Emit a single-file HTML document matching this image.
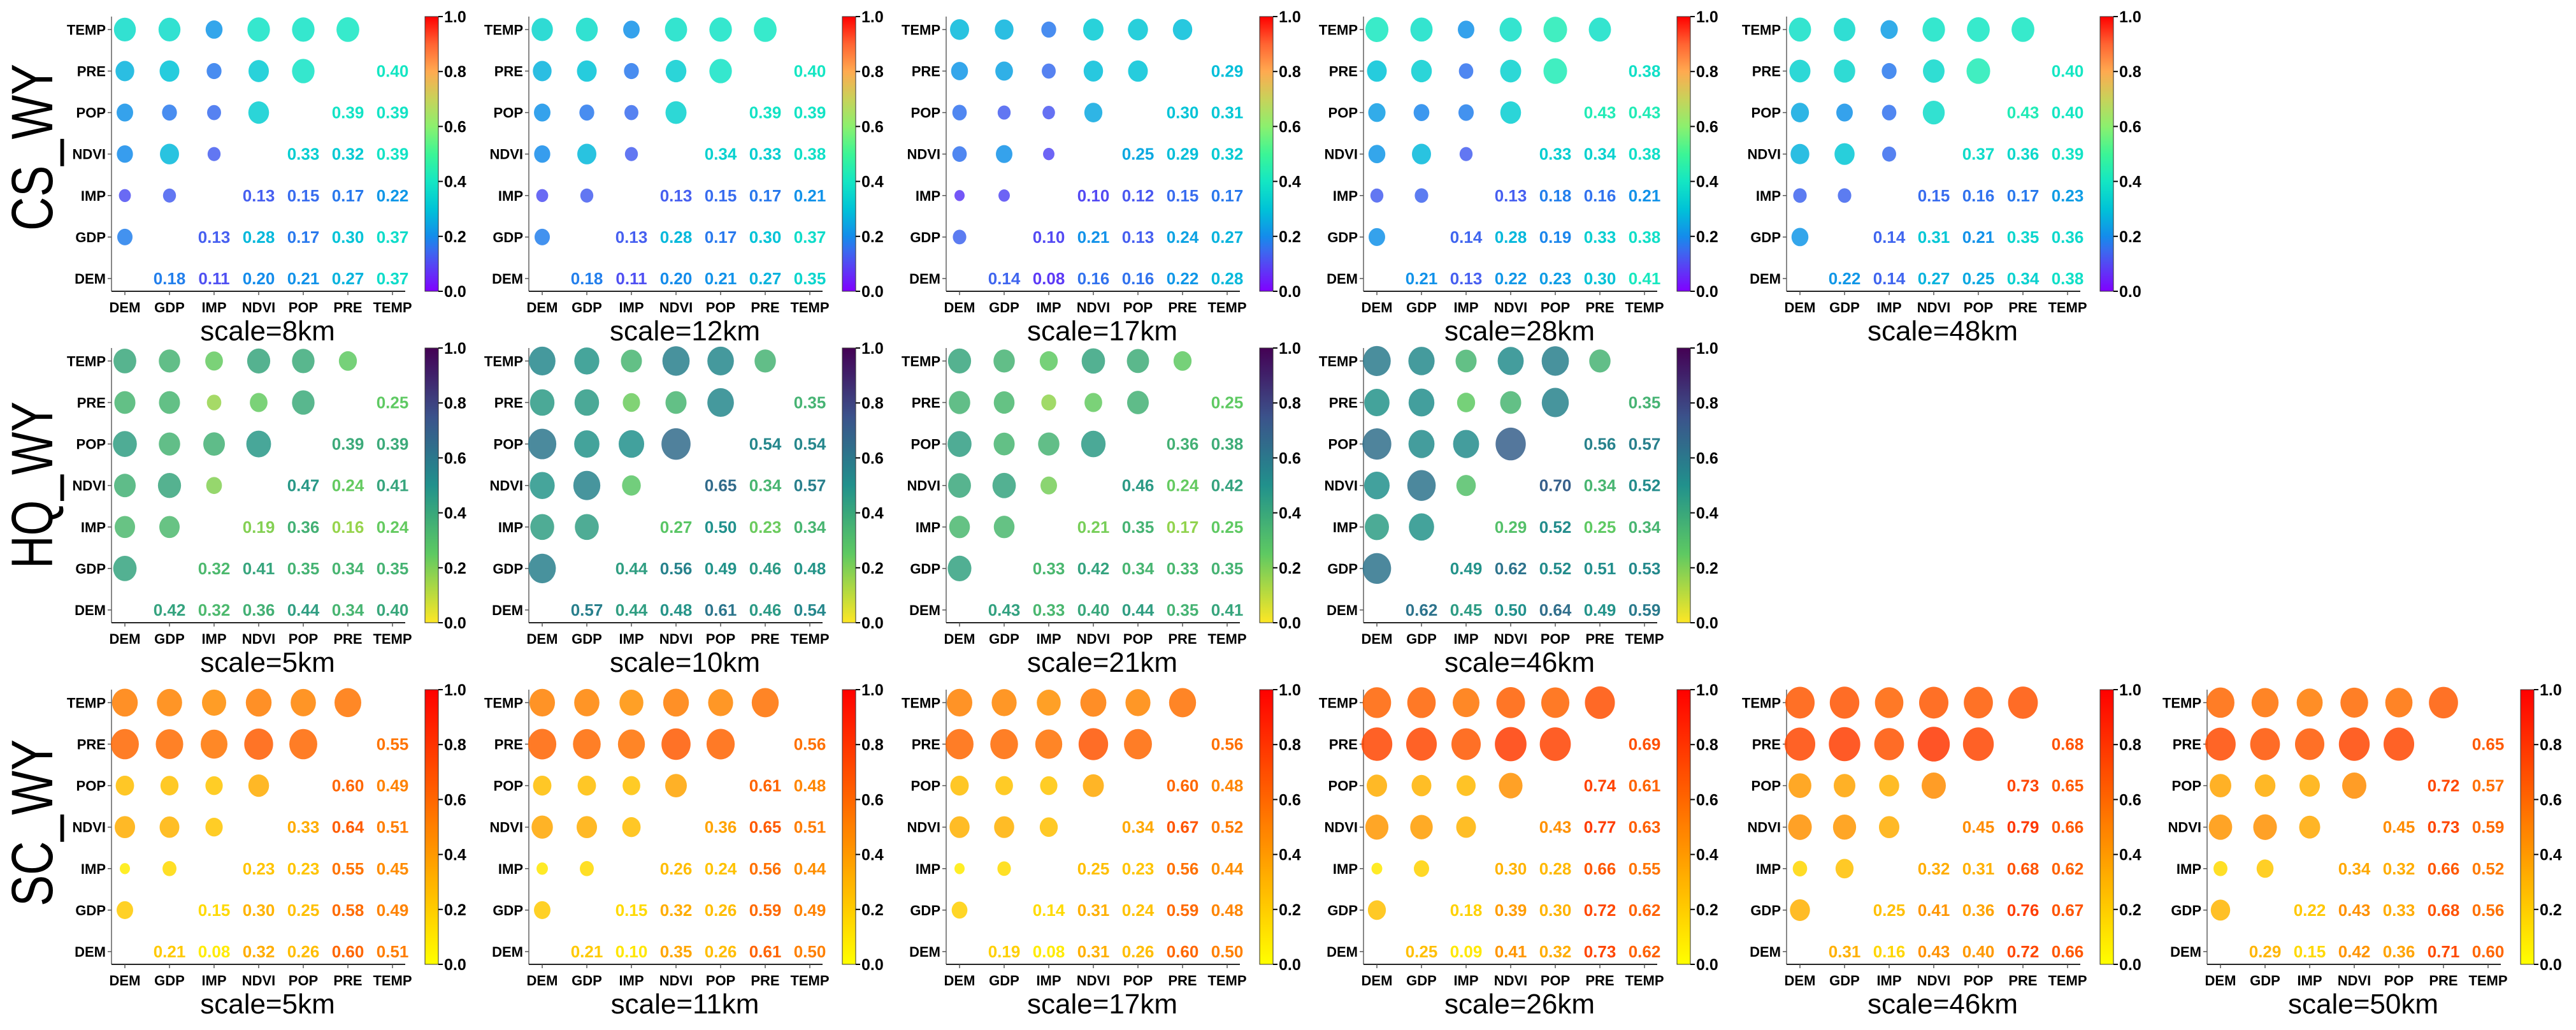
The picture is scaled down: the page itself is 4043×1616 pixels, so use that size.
<!DOCTYPE html>
<html><head><meta charset="utf-8">
<style>
html,body{margin:0;padding:0;background:#fff;}
svg{display:block;font-family:"Liberation Sans",Arial,sans-serif;}
</style></head>
<body>
<svg id="fig" width="4043" height="1616" viewBox="0 0 4043 1616" xmlns="http://www.w3.org/2000/svg">
<defs id="defs"></defs>
<g><text transform="translate(82,231) rotate(-90)" text-anchor="middle" font-size="92" textLength="262" lengthAdjust="spacingAndGlyphs">CS_WY</text></g>
<g><text transform="translate(82,761) rotate(-90)" text-anchor="middle" font-size="92" textLength="262" lengthAdjust="spacingAndGlyphs">HQ_WY</text></g>
<g><text transform="translate(82,1291) rotate(-90)" text-anchor="middle" font-size="92" textLength="262" lengthAdjust="spacingAndGlyphs">SC_WY</text></g>
</svg>
<script>
const variables = ["DEM","GDP","IMP","NDVI","POP","PRE","TEMP"];
const cbTicks = ["0.0","0.2","0.4","0.6","0.8","1.0"];
// upper-triangle values, row-major: DEM(GDP..TEMP), GDP(IMP..TEMP), IMP(NDVI..TEMP), NDVI(POP..TEMP), POP(PRE,TEMP), PRE(TEMP)
const cs8  = [.18,.11,.20,.21,.27,.37, .13,.28,.17,.30,.37, .13,.15,.17,.22, .33,.32,.39, .39,.39, .40];
const cs12 = [.18,.11,.20,.21,.27,.35, .13,.28,.17,.30,.37, .13,.15,.17,.21, .34,.33,.38, .39,.39, .40];
const cs17 = [.14,.08,.16,.16,.22,.28, .10,.21,.13,.24,.27, .10,.12,.15,.17, .25,.29,.32, .30,.31, .29];
const cs28 = [.21,.13,.22,.23,.30,.41, .14,.28,.19,.33,.38, .13,.18,.16,.21, .33,.34,.38, .43,.43, .38];
const cs48 = [.22,.14,.27,.25,.34,.38, .14,.31,.21,.35,.36, .15,.16,.17,.23, .37,.36,.39, .43,.40, .40];
const hq5  = [.42,.32,.36,.44,.34,.40, .32,.41,.35,.34,.35, .19,.36,.16,.24, .47,.24,.41, .39,.39, .25];
const hq10 = [.57,.44,.48,.61,.46,.54, .44,.56,.49,.46,.48, .27,.50,.23,.34, .65,.34,.57, .54,.54, .35];
const hq21 = [.43,.33,.40,.44,.35,.41, .33,.42,.34,.33,.35, .21,.35,.17,.25, .46,.24,.42, .36,.38, .25];
const hq46 = [.62,.45,.50,.64,.49,.59, .49,.62,.52,.51,.53, .29,.52,.25,.34, .70,.34,.52, .56,.57, .35];
const sc5  = [.21,.08,.32,.26,.60,.51, .15,.30,.25,.58,.49, .23,.23,.55,.45, .33,.64,.51, .60,.49, .55];
const sc11 = [.21,.10,.35,.26,.61,.50, .15,.32,.26,.59,.49, .26,.24,.56,.44, .36,.65,.51, .61,.48, .56];
const sc17 = [.19,.08,.31,.26,.60,.50, .14,.31,.24,.59,.48, .25,.23,.56,.44, .34,.67,.52, .60,.48, .56];
const sc26 = [.25,.09,.41,.32,.73,.62, .18,.39,.30,.72,.62, .30,.28,.66,.55, .43,.77,.63, .74,.61, .69];
const sc46 = [.31,.16,.43,.40,.72,.66, .25,.41,.36,.76,.67, .32,.31,.68,.62, .45,.79,.66, .73,.65, .68];
const sc50 = [.29,.15,.42,.36,.71,.60, .22,.43,.33,.68,.56, .34,.32,.66,.52, .45,.73,.59, .72,.57, .65];
const csScales = ["8km","12km","17km","28km","48km"];
const hqScales = ["5km","10km","21km","46km"];
const scScales = ["5km","11km","17km","26km","46km","50km"];
const csData = [cs8,cs12,cs17,cs28,cs48];
const hqData = [hq5,hq10,hq21,hq46];
const scData = [sc5,sc11,sc17,sc26,sc46,sc50];

const NS="http://www.w3.org/2000/svg";
const svg=document.getElementById('fig');
const defs=document.getElementById('defs');
const axisX=[175,830,1485,2140,2804,3464];
const rowTops=[26,546,1082];
function mk(tag,attrs,parent){const e=document.createElementNS(NS,tag);for(const k in attrs)e.setAttribute(k,attrs[k]);(parent||svg).appendChild(e);return e;}
function interp(stops,x){x=Math.max(0,Math.min(1,x));for(let i=0;i<stops.length-1;i++){const a=stops[i],b=stops[i+1];if(x<=b[0]){const f=(x-a[0])/(b[0]-a[0]);return `rgb(${Math.round(a[1]+(b[1]-a[1])*f)},${Math.round(a[2]+(b[2]-a[2])*f)},${Math.round(a[3]+(b[3]-a[3])*f)})`;}}const l=stops[stops.length-1];return `rgb(${l[1]},${l[2]},${l[3]})`;}
const rbStops=[[0,128,0,255],[0.13,70,95,240],[0.2,20,140,235],[0.3,0,195,215],[0.4,20,230,195],[0.5,60,245,150],[0.6,140,240,110],[0.7,200,210,90],[0.8,255,170,80],[0.9,255,100,50],[1,255,0,0]];
const virStops=[[0,253,231,37],[0.25,94,201,98],[0.5,33,145,140],[0.75,59,82,139],[1,68,1,84]];
function rainbow(x){return interp(rbStops,x);}
function viridisR(x){return interp(virStops,x);}
function autumnR(x){x=Math.max(0,Math.min(1,x));return `rgb(255,${Math.round(255*(1-x))},0)`;}
const cmaps=[rainbow,viridisR,autumnR];

function valueAt(arr,i,j){ // i<j
  let idx=0;for(let r=0;r<i;r++)idx+=6-r;return arr[idx+(j-i-1)];
}
function drawPanel(row,p,arr,scale){
  const ax=axisX[p], top=rowTops[row], bot=top+431, cmap=cmaps[row];
  const xs=j=>ax+21+j*70;
  const ys=i=>top+411-i*65.1;
  const g=mk('g',{});
  
  
  const ya=mk('line',{x1:ax,y1:top,x2:ax,y2:bot,stroke:'#888','stroke-width':2},g);
  
  const xa=mk('line',{x1:ax,y1:bot,x2:ax+461,y2:bot,stroke:'#222','stroke-width':2},g);
  
  variables.forEach((v,k)=>{
    mk('line',{x1:ax-6,y1:ys(k),x2:ax,y2:ys(k),stroke:'#555','stroke-width':1.5},g);
    const yl=mk('text',{x:ax-9,y:ys(k)+8,'text-anchor':'end','font-size':22,'font-weight':'bold'},g);
    yl.textContent=v;
    mk('line',{x1:xs(k),y1:bot,x2:xs(k),y2:bot+6,stroke:'#555','stroke-width':1.5},g);
    const xl=mk('text',{x:xs(k),y:bot+33,'text-anchor':'middle','font-size':22,'font-weight':'bold'},g);
    xl.textContent=v;
  });
  for(let i=0;i<7;i++)for(let j=i+1;j<7;j++){
    const v=valueAt(arr,i,j), c=cmap(v);
    const t=mk('text',{x:xs(j),y:ys(i)+9,'text-anchor':'middle','font-size':26,'font-weight':'bold',fill:c},g);
    t.textContent=v.toFixed(2);
    
    
    const d=59*Math.sqrt(v);
    const e=mk('ellipse',{cx:xs(i),cy:ys(j),rx:d/2*0.96,ry:d/2*1.04,fill:c,'fill-opacity':0.85},g);
    
    
  }
  const gid='cb'+row+'_'+p;
  const lg=mk('linearGradient',{id:gid,x1:0,y1:1,x2:0,y2:0},defs);
  for(let s=0;s<=20;s++)mk('stop',{offset:s/20,'stop-color':cmap(s/20)},lg);
  const cx=ax+492;
  const cb=mk('rect',{x:cx,y:top,width:21,height:431,fill:`url(#${gid})`,stroke:'#333','stroke-width':1},g);
  
  cbTicks.forEach((tk,k)=>{
    const y=bot-k*431/5;
    mk('line',{x1:cx+21,y1:y,x2:cx+28,y2:y,stroke:'#000','stroke-width':2},g);
    const tl=mk('text',{x:cx+30,y:y+9,'font-size':25,'font-weight':'bold'},g);
    tl.textContent=tk;
  });
  const st=mk('text',{x:ax+245,y:bot+77,'text-anchor':'middle','font-size':44},g);
  st.textContent='scale='+scale;
  
  
}
csData.forEach((a,p)=>drawPanel(0,p,a,csScales[p]));
hqData.forEach((a,p)=>drawPanel(1,p,a,hqScales[p]));
scData.forEach((a,p)=>drawPanel(2,p,a,scScales[p]));
</script>
</body></html>
